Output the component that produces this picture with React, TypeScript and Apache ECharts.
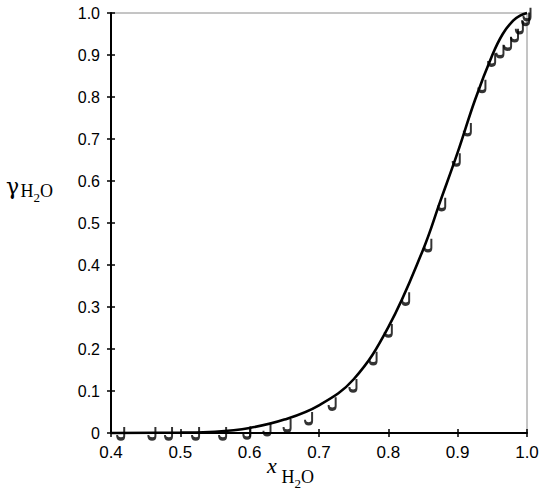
import React, { useEffect, useRef } from "react";
import * as echarts from "echarts";

// Experimental points (J markers)
const expX = [0.414, 0.459, 0.483, 0.522, 0.561, 0.596, 0.625, 0.654, 0.685, 0.719, 0.749, 0.778, 0.800, 0.825, 0.857, 0.877, 0.898, 0.914, 0.935, 0.949, 0.961, 0.972, 0.982, 0.989, 0.998, 1.0];
const expY = [0, 0, 0, 0, 0, 0.002, 0.010, 0.019, 0.036, 0.071, 0.114, 0.179, 0.245, 0.321, 0.448, 0.546, 0.652, 0.724, 0.827, 0.890, 0.910, 0.928, 0.948, 0.967, 0.987, 0.998];

// Model curve
const fitX = [0.40, 0.50, 0.55, 0.60, 0.65, 0.70, 0.75, 0.80, 0.85, 0.875, 0.90, 0.925, 0.95, 0.965, 0.98, 0.99, 1.0];
const fitY = [0, 0.001, 0.003, 0.012, 0.032, 0.066, 0.128, 0.252, 0.436, 0.552, 0.668, 0.793, 0.900, 0.950, 0.982, 0.994, 1.0];

const X_MIN = 0.4;
const X_MAX = 1.0;
const Y_MIN = 0;
const Y_MAX = 1.0;
const STEP = 0.1;

const J_PATH = "path://M10,0 L10,14.5 C10,20.5 1.5,20.5 1,14.5 L1,12.5";

export default function App() {
  const ref = useRef<HTMLDivElement>(null);

  useEffect(() => {
    document.body.style.margin = "0";
    if (!ref.current) return;
    const chart = echarts.init(ref.current, undefined, { renderer: "svg" });

    const labelFont = "Liberation Sans";
    const serif = "Liberation Serif";

    const baseX = {
      type: "value",
      min: X_MIN,
      max: X_MAX,
      interval: STEP,
      position: "bottom",
      splitLine: { show: false },
    };
    const baseY = {
      type: "value",
      min: Y_MIN,
      max: Y_MAX,
      interval: STEP,
      position: "left",
      splitLine: { show: false },
    };

    chart.setOption({
      animation: false,
      backgroundColor: "#ffffff",
      grid: {
        left: 111,
        right: 23,
        top: 13,
        bottom: 70,
        show: true,
        borderColor: "#8a8a8a",
        borderWidth: 1,
        containLabel: false,
        outerBoundsMode: "none",
      },
      xAxis: [
        {
          ...baseX,
          axisLine: { show: true, lineStyle: { color: "#000", width: 2 } },
          axisTick: { show: true, inside: false, length: 4, lineStyle: { color: "#000", width: 1.5 } },
          axisLabel: {
            show: true,
            margin: 11,
            color: "#000",
            fontFamily: labelFont,
            fontSize: 17,
            formatter: (v: number) => v.toFixed(1),
          },
        },
        {
          ...baseX,
          axisLine: { show: false },
          axisTick: { show: true, inside: true, length: 4, lineStyle: { color: "#000", width: 1.5 } },
          axisLabel: { show: false },
        },
      ],
      yAxis: [
        {
          ...baseY,
          axisLine: { show: true, lineStyle: { color: "#000", width: 2 } },
          axisTick: { show: true, inside: false, length: 4, lineStyle: { color: "#000", width: 1.5 } },
          axisLabel: {
            show: true,
            margin: 11,
            color: "#000",
            fontFamily: labelFont,
            fontSize: 16,
            formatter: (v: number) => (v === 0 ? "0" : v.toFixed(1)),
          },
        },
        {
          ...baseY,
          axisLine: { show: false },
          axisTick: { show: true, inside: true, length: 4, lineStyle: { color: "#000", width: 1.5 } },
          axisLabel: { show: false },
        },
      ],
      series: [
        {
          type: "scatter",
          xAxisIndex: 0,
          yAxisIndex: 0,
          data: expX.map((x, i) => [x, expY[i]]),
          symbol: J_PATH,
          symbolSize: [7, 12],
          itemStyle: { color: "none", borderColor: "#000", borderWidth: 2.6 },
          clip: false,
          z: 2,
        },
        {
          type: "line",
          xAxisIndex: 0,
          yAxisIndex: 0,
          data: fitX.map((x, i) => [x, fitY[i]]),
          smooth: 0.4,
          showSymbol: false,
          symbol: "none",
          lineStyle: { color: "#000", width: 2.6 },
          clip: false,
          z: 3,
        },
      ],
      graphic: [
        { type: "text", x: 6, y: 186, style: { text: "γ", font: `22px "DejaVu Serif"`, fill: "#000", align: "left", verticalAlign: "middle" } },
        { type: "text", x: 20.5, y: 191, style: { text: "H", font: `18px "${serif}"`, fill: "#000", align: "left", verticalAlign: "middle" } },
        { type: "text", x: 33.5, y: 197.5, style: { text: "2", font: `13px "${serif}"`, fill: "#000", align: "left", verticalAlign: "middle" } },
        { type: "text", x: 40, y: 191, style: { text: "O", font: `18px "${serif}"`, fill: "#000", align: "left", verticalAlign: "middle" } },

        { type: "text", x: 267, y: 465.5, style: { text: "x", font: `italic 22px "${serif}"`, fill: "#000", align: "left", verticalAlign: "middle" } },
        { type: "text", x: 281.5, y: 477, style: { text: "H", font: `18px "${serif}"`, fill: "#000", align: "left", verticalAlign: "middle" } },
        { type: "text", x: 294.5, y: 483.5, style: { text: "2", font: `13px "${serif}"`, fill: "#000", align: "left", verticalAlign: "middle" } },
        { type: "text", x: 301, y: 477, style: { text: "O", font: `18px "${serif}"`, fill: "#000", align: "left", verticalAlign: "middle" } },
      ],
    });

    return () => {
      chart.dispose();
    };
  }, []);

  return <div ref={ref} style={{ width: 550, height: 503 }} />;
}
